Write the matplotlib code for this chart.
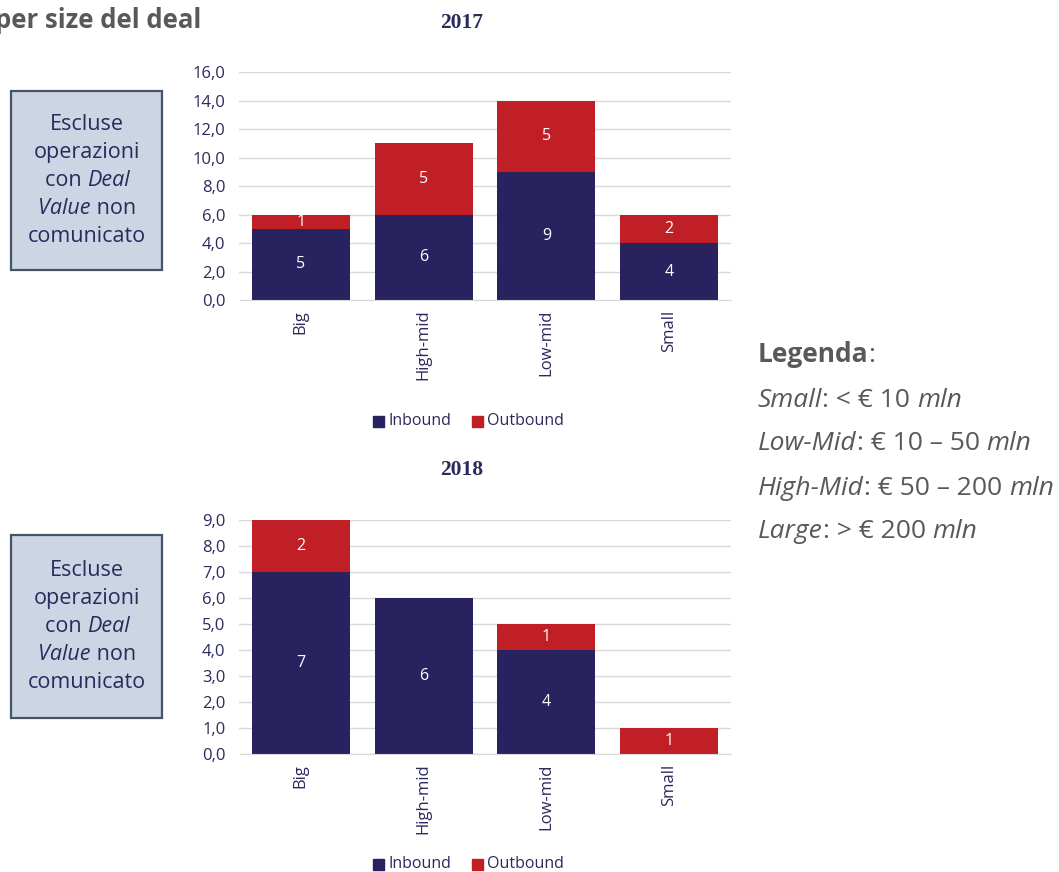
import matplotlib
matplotlib.use("Agg")
import matplotlib.pyplot as plt
from matplotlib.patches import Rectangle

# Deal counts by size bucket
categories = ["Big", "High-mid", "Low-mid", "Small"]
inbound_2017 = [5, 6, 9, 4]
outbound_2017 = [1, 5, 5, 2]
inbound_2018 = [7, 6, 4, 0]
outbound_2018 = [2, 0, 1, 1]
years = ["2017", "2018"]
series_names = ["Inbound", "Outbound"]
yticks_2017 = [0, 2, 4, 6, 8, 10, 12, 14, 16]
yticks_2018 = [0, 1, 2, 3, 4, 5, 6, 7, 8, 9]

NAVY = "#28235F"
RED = "#C01F26"
TEXT = "#2B2A5C"
GRID = "#D9D9D9"
GREY = "#595959"

W, H = 1059, 872
plt.rcParams["font.family"] = ["Open Sans", "DejaVu Sans"]
fig = plt.figure(figsize=(W / 100, H / 100), dpi=100)
renderer = fig.canvas.get_renderer()


def px_axes(left, top, right, bottom):
    return fig.add_axes([left / W, 1 - bottom / H, (right - left) / W, (bottom - top) / H])


def mixed_line(x_px, y_px, parts, size, color, align="left"):
    """Draw a line made of differently styled pieces; parts = [(text, style, weight)]."""
    widths = []
    for txt, st, wt in parts:
        t = fig.text(0, 0, txt, fontsize=size, style=st, fontweight=wt)
        widths.append(t.get_window_extent(renderer=renderer).width)
        t.remove()
    total = sum(widths)
    x = x_px - total / 2 if align == "center" else x_px
    for (txt, st, wt), w in zip(parts, widths):
        fig.text(x / W, 1 - y_px / H, txt, ha="left", va="center", fontsize=size,
                 style=st, fontweight=wt, color=color)
        x += w


def draw_panel(ax, inbound, outbound, yticks, title, title_y, legend_y):
    x = range(len(categories))
    ax.bar(x, inbound, width=0.8, color=NAVY, zorder=3)
    ax.bar(x, outbound, width=0.8, bottom=inbound, color=RED, zorder=3)
    for i, (a, b) in enumerate(zip(inbound, outbound)):
        if a > 0:
            ax.text(i, a / 2, str(a), ha="center", va="center", color="white", fontsize=11.5, zorder=4)
        if b > 0:
            ax.text(i, a + b / 2, str(b), ha="center", va="center", color="white", fontsize=11.5, zorder=4)
    ax.set_xlim(-0.5, len(categories) - 0.5)
    ax.set_ylim(yticks[0], yticks[-1])
    ax.set_yticks(yticks)
    ax.set_yticklabels([f"{v:.1f}".replace(".", ",") for v in yticks], color=TEXT, fontsize=12)
    ax.set_xticks(list(x))
    ax.set_xticklabels(categories, rotation=90, color=TEXT, fontsize=12, va="top")
    ax.tick_params(axis="both", length=0)
    ax.tick_params(axis="x", pad=7)
    ax.tick_params(axis="y", pad=10)
    ax.yaxis.grid(True, color=GRID, linewidth=1, zorder=0)
    for s in ["top", "right", "left"]:
        ax.spines[s].set_visible(False)
    ax.spines["bottom"].set_color(GRID)
    ax.spines["bottom"].set_zorder(5)
    fig.text(462 / W, 1 - title_y / H, title, ha="center", va="center",
             family="Liberation Serif", fontweight="bold", fontsize=15.5, color=TEXT)
    # legend row below the panel
    for name, color, sx in zip(series_names, [NAVY, RED], [373, 472]):
        fig.patches.append(Rectangle((sx / W, 1 - (legend_y + 6) / H), 11 / W, 11 / H,
                                     transform=fig.transFigure, color=color))
        fig.text((sx + 15) / W, 1 - legend_y / H, name, ha="left", va="center",
                 fontsize=11.5, color=TEXT)


ax1 = px_axes(239.5, 72, 730.5, 300)
draw_panel(ax1, inbound_2017, outbound_2017, yticks_2017, years[0], 23, 421)
ax2 = px_axes(239.5, 520, 730.5, 754)
draw_panel(ax2, inbound_2018, outbound_2018, yticks_2018, years[1], 470, 864)

# Note boxes on the left
box_size = 15.5
for top, bottom in [(91, 270), (535, 718)]:
    fig.patches.append(Rectangle((11 / W, 1 - bottom / H), 151 / W, (bottom - top) / H,
                                 transform=fig.transFigure, facecolor="#CCD5E3",
                                 edgecolor="#44546A", linewidth=1.6))
    cx = 87
    cy = (top + bottom) / 2
    step = 27.75
    y0 = cy - 2 * step
    rows = [
        [("Escluse", "normal", "normal")],
        [("operazioni", "normal", "normal")],
        [("con ", "normal", "normal"), ("Deal", "italic", "normal")],
        [("Value", "italic", "normal"), (" non", "normal", "normal")],
        [("comunicato", "normal", "normal")],
    ]
    for k, parts in enumerate(rows):
        mixed_line(cx, y0 + k * step, parts, box_size, TEXT, align="center")

# Chart heading (partially outside the canvas)
fig.text(201 / W, 1 - 21 / H, "per size del deal", ha="right", va="center",
         fontsize=18.5, fontweight="bold", color=GREY)

# Size legend on the right
lx = 758
mixed_line(lx, 355, [("Legenda", "normal", "bold"), (":", "normal", "normal")], 19, GREY)
legend_rows = [
    ("Small", ": < € 10 ", "mln"),
    ("Low-Mid", ": € 10 – 50 ", "mln"),
    ("High-Mid", ": € 50 – 200 ", "mln"),
    ("Large", ": > € 200 ", "mln"),
]
for k, (a, b, c) in enumerate(legend_rows):
    mixed_line(lx, 400 + k * 44,
               [(a, "italic", "normal"), (b, "normal", "normal"), (c, "italic", "normal")],
               19, GREY)

fig.savefig("out.png", dpi=100)
